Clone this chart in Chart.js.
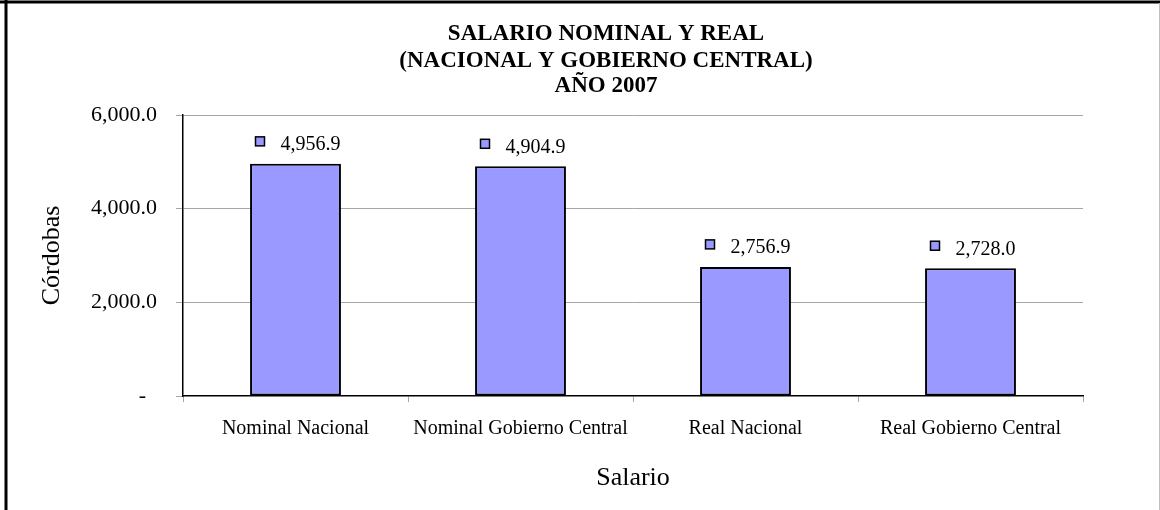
<!DOCTYPE html>
<html>
<head>
<meta charset="utf-8">
<script src="https://cdn.jsdelivr.net/npm/chart.js@4/dist/chart.umd.min.js"></script>
<style>
  html, body { margin: 0; padding: 0; background: #fff; }
  #wrap { width: 1160px; height: 510px; position: relative; }
</style>
</head>
<body>
<div id="wrap"><canvas id="c" width="1160" height="510"></canvas></div>
<script>
const titleLines = ["SALARIO NOMINAL Y REAL", "(NACIONAL Y GOBIERNO CENTRAL)", "AÑO 2007"];
const categories = ["Nominal Nacional", "Nominal Gobierno Central", "Real Nacional", "Real Gobierno Central"];
const salaryValues = [4956.9, 4904.9, 2756.9, 2728.0];
const yTickValues = [0, 2000, 4000, 6000];
const xAxisTitle = "Salario";
const yAxisTitle = "Córdobas";

const SERIF = "'Liberation Serif', 'Times New Roman', serif";
const BAR_FILL = "#9999ff";
const GRID = "#a6a6a6";

function fmt(v) {
  if (v === 0) return "-  ";
  const fixed = v.toFixed(1);
  const parts = fixed.split(".");
  parts[0] = parts[0].replace(/\B(?=(\d{3})+(?!\d))/g, ",");
  return parts.join(".");
}

const framePlugin = {
  id: "frame",
  beforeDraw(chart) {
    const ctx = chart.ctx;
    ctx.save();
    ctx.fillStyle = "#fff";
    ctx.fillRect(0, 0, chart.width, chart.height);
    ctx.restore();
  },
  afterDraw(chart) {
    const ctx = chart.ctx;
    ctx.save();
    ctx.strokeStyle = "#000";
    ctx.lineWidth = 3;
    ctx.beginPath();
    ctx.moveTo(0, 2); ctx.lineTo(chart.width, 2);
    ctx.moveTo(6, 0); ctx.lineTo(6, chart.height);
    ctx.stroke();
    ctx.strokeStyle = "#c0c0c0";
    ctx.lineWidth = 1;
    ctx.beginPath();
    ctx.moveTo(1159.5, 3); ctx.lineTo(1159.5, chart.height);
    ctx.stroke();
    ctx.restore();
  }
};

const titlePlugin = {
  id: "customTitle",
  afterDraw(chart) {
    const ctx = chart.ctx;
    ctx.save();
    ctx.fillStyle = "#000";
    ctx.font = "bold 23px " + SERIF;
    ctx.textAlign = "center";
    ctx.textBaseline = "alphabetic";
    const baselines = [40, 66.5, 92];
    titleLines.forEach((t, i) => ctx.fillText(t, 606, baselines[i]));
    ctx.restore();
  }
};

const labelPlugin = {
  id: "barLabels",
  afterDatasetsDraw(chart) {
    const ctx = chart.ctx;
    const meta = chart.getDatasetMeta(0);
    const data = chart.data.datasets[0].data;
    ctx.save();
    meta.data.forEach((bar, i) => {
      const cx = bar.x, top = bar.y;
      ctx.fillStyle = BAR_FILL;
      ctx.strokeStyle = "#000";
      ctx.lineWidth = 1.5;
      ctx.fillRect(cx - 40, top - 27, 9, 9);
      ctx.strokeRect(cx - 40, top - 27, 9, 9);
      ctx.fillStyle = "#000";
      ctx.font = "20px " + SERIF;
      ctx.textAlign = "left";
      ctx.textBaseline = "alphabetic";
      ctx.fillText(fmt(data[i]), cx - 15, top - 13.5);
    });
    ctx.restore();
  }
};

new Chart(document.getElementById("c"), {
  type: "bar",
  data: {
    labels: categories,
    datasets: [{
      data: salaryValues,
      backgroundColor: BAR_FILL,
      borderColor: "#000",
      borderWidth: 2,
      borderSkipped: false,
      categoryPercentage: 1.0,
      barPercentage: 0.404
    }]
  },
  options: {
    responsive: false,
    animation: false,
    devicePixelRatio: 1,
    layout: { padding: { top: 115, right: 77, bottom: 0, left: 0 } },
    plugins: {
      legend: { display: false },
      title: { display: false },
      tooltip: { enabled: false }
    },
    scales: {
      x: {
        afterFit(scale) { scale.height = 114; },
        grid: {
          offset: true,
          drawOnChartArea: true,
          drawTicks: true,
          tickLength: 6,
          color: (ctx) => (ctx.index === categories.length ? GRID : "rgba(0,0,0,0)"),
          tickColor: GRID,
          lineWidth: 1
        },
        border: { display: true, color: "#000", width: 1.5 },
        ticks: {
          color: "#000",
          font: { family: SERIF, size: 20 },
          padding: 15,
          maxRotation: 0,
          autoSkip: false
        },
        title: {
          display: true,
          text: xAxisTitle,
          color: "#000",
          font: { family: SERIF, size: 26 },
          padding: { top: 0, bottom: 16 }
        }
      },
      y: {
        min: 0,
        max: 6000,
        afterFit(scale) { scale.width = 183; },
        afterBuildTicks(scale) { scale.ticks = yTickValues.map(v => ({ value: v })); },
        grid: {
          drawTicks: true,
          tickLength: 7,
          color: (ctx) => (ctx.tick && ctx.tick.value === 0 ? "rgba(0,0,0,0)" : GRID),
          tickColor: GRID,
          lineWidth: 1
        },
        border: { display: true, color: "#000", width: 1.5 },
        ticks: {
          color: "#000",
          font: { family: SERIF, size: 22 },
          padding: 19,
          callback: (v) => fmt(v)
        },
        title: {
          display: true,
          text: yAxisTitle,
          color: "#000",
          font: { family: SERIF, size: 26 },
          padding: { top: 37, bottom: 0 }
        }
      }
    }
  },
  plugins: [framePlugin, titlePlugin, labelPlugin]
});
</script>
</body>
</html>
